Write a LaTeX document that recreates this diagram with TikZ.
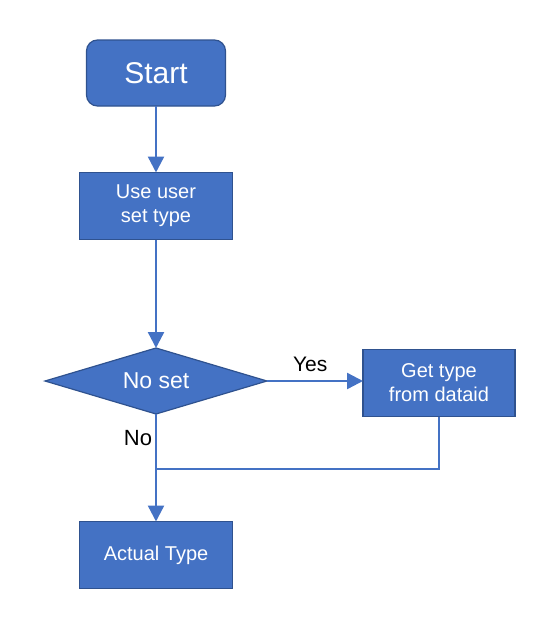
\documentclass[tikz,border=0pt]{standalone}
\usepackage{fontspec}
\setmainfont{Liberation Sans}
\usetikzlibrary{shapes.geometric,arrows.meta}
\definecolor{boxblue}{HTML}{4472C4}
\definecolor{edgeblue}{HTML}{2F528F}
\begin{document}
\begin{tikzpicture}[x=1pt,y=-1pt,inner sep=0pt,outer sep=0pt,
procbox/.style={draw=edgeblue,fill=boxblue,line width=1.2pt,rectangle,minimum width=153pt,minimum height=67pt,text=white,align=center,font=\fontsize{20}{24}\selectfont},
startbox/.style={procbox,rounded corners=11pt,minimum width=139pt,minimum height=66pt,font=\fontsize{30}{32}\selectfont},
decbox/.style={draw=edgeblue,fill=boxblue,line width=1.2pt,diamond,aspect=3.36,minimum width=222pt,minimum height=66pt,text=white,font=\fontsize{23}{26}\selectfont},
flow/.style={draw=boxblue,line width=2.4pt},
tip/.style={-{Triangle[width=16pt,length=16pt]}}]
\useasboundingbox (0,0) rectangle (547,624);
\draw (156,73) node[startbox] (start) {Start};
\draw (156,206) node[procbox] (user) {Use user\\set type};
\draw (156,381) node[decbox] (noset) {No set};
\draw (439,383) node[procbox,minimum width=152pt] (dataid) {Get type\\from dataid};
\draw (156,555) node[procbox] (actual) {Actual Type};
\coordinate (join) at (156,469);
\draw[flow,tip] (start.south) -- (user.north);
\draw[flow,tip] (user.south) -- (noset.north);
\draw[flow,tip] (noset.east) -- (noset.east -| dataid.west) node[pos=0.45,above=9pt,font=\fontsize{21}{24}\selectfont] {Yes};
\draw[flow,tip] (noset.south) -- (actual.north) node[pos=0.22,left=4pt,font=\fontsize{22}{24}\selectfont] {No};
\draw[flow,line width=1.6pt] (dataid.south) |- (join);
\end{tikzpicture}
\end{document}
